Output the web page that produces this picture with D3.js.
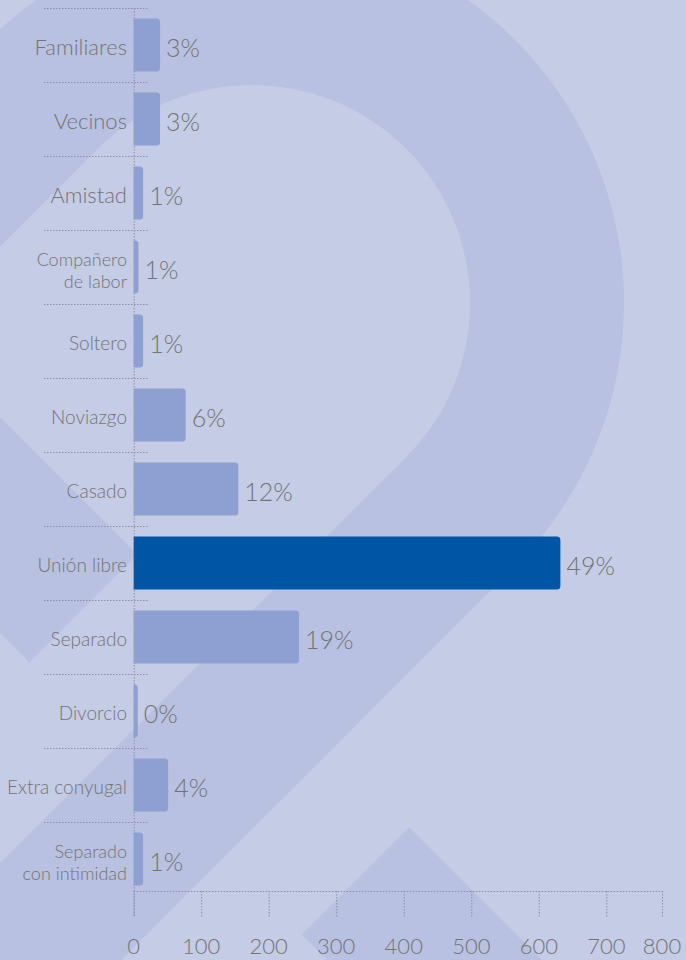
<!DOCTYPE html>
<html>
<head>
<meta charset="utf-8">
<script src="https://cdn.jsdelivr.net/npm/d3@7"></script>
<style>
  html, body { margin: 0; padding: 0; background: #c5cce6; }
  svg { display: block; }
  text { font-family: Lato, "Open Sans", sans-serif; font-weight: 300; fill: #737373; }
</style>
</head>
<body>
<svg id="chart" width="686" height="960"></svg>
<script>
// Tipo de relación con el agresor (número de casos)
const categories = [
  "Familiares", "Vecinos", "Amistad", "Compañero de labor", "Soltero",
  "Noviazgo", "Casado", "Unión libre", "Separado", "Divorcio",
  "Extra conyugal", "Separado con intimidad"
];
const counts = [39, 39, 14, 7, 14, 77, 155, 632, 245, 6, 51, 14];
const highlighted = "Unión libre";
const xTickValues = [0, 100, 200, 300, 400, 500, 600, 700, 800];
const wrappedLabels = {
  "Compañero de labor": ["Compañero", "de labor"],
  "Separado con intimidad": ["Separado", "con intimidad"]
};
const largeLabels = ["Familiares", "Vecinos", "Amistad"];

const W = 686, H = 960;
const svg = d3.select("#chart");

// ---- decorative background: a large "2" ring with diagonal arms and two diamonds
const bg = svg.append("g");
bg.append("rect").attr("width", W).attr("height", H).attr("fill", "#c5cce6");
const darkShape = "#b8c1e1";
{
  const cx = 252, cy = 303, R = 372, r = 218, k = Math.SQRT1_2, L = 900;
  const P1 = [cx - R * k, cy - R * k], P2 = [cx + R * k, cy + R * k];
  const Q1 = [cx - r * k, cy - r * k], Q2 = [cx + r * k, cy + r * k];
  const p = d3.path();
  p.moveTo(P1[0], P1[1]);
  p.arc(cx, cy, R, 5 * Math.PI / 4, 9 * Math.PI / 4, false);
  p.lineTo(P2[0] - L, P2[1] + L);
  p.lineTo(Q2[0] - L, Q2[1] + L);
  p.lineTo(Q2[0], Q2[1]);
  p.arc(cx, cy, r, 9 * Math.PI / 4, 5 * Math.PI / 4, true);
  p.lineTo(Q1[0] - L, Q1[1] + L);
  p.lineTo(P1[0] - L, P1[1] + L);
  p.closePath();
  bg.append("path").attr("d", p.toString()).attr("fill", darkShape);

  const diamonds = [
    [[137.5, 554.5], [29.5, 662.5], [-415.5, 217.5], [-307.5, 109.5]],
    [[409, 827], [301.5, 934.5], [483.5, 1116.5], [591, 1009]]
  ];
  bg.selectAll("polygon").data(diamonds).join("polygon")
    .attr("points", d => d.map(q => q.join(",")).join(" "))
    .attr("fill", darkShape);
}

// ---- scales
const x0 = 133.7;
const xScale = d3.scaleLinear()
  .domain([0, 700, 800])
  .range([x0, 606.3, 662]);

const yScale = d3.scaleBand()
  .domain(categories)
  .range([8, 896])
  .paddingInner(0.284)
  .paddingOuter(0.142);

const axisY = 891;
const tickBottom = 917;
const total = d3.sum(counts);
const data = categories.map((c, i) => ({ cat: c, value: counts[i] }));

const dotted = "#8d8cab";
const g = svg.append("g");

// row separators on the left
const gap = yScale.step() - yScale.bandwidth();
g.selectAll("line.sep").data(categories).join("line")
  .attr("class", "sep")
  .attr("x1", 44).attr("x2", 149)
  .attr("y1", d => yScale(d) - gap / 2 + 0.5)
  .attr("y2", d => yScale(d) - gap / 2 + 0.5)
  .attr("stroke", dotted).attr("stroke-width", 1)
  .attr("stroke-dasharray", "1.5,1.5");

// vertical baseline
g.append("line")
  .attr("x1", x0 + 0.5).attr("x2", x0 + 0.5)
  .attr("y1", yScale(categories[0]) - gap / 2).attr("y2", tickBottom)
  .attr("stroke", dotted).attr("stroke-width", 1)
  .attr("stroke-dasharray", "1.5,1.5");

// bars, rounded on the right end only
function barPath(xa, xb, y, h, rad) {
  const rr = Math.max(0, Math.min(rad, xb - xa, h / 2));
  return `M${xa},${y}H${xb - rr}A${rr},${rr} 0 0 1 ${xb},${y + rr}` +
         `V${y + h - rr}A${rr},${rr} 0 0 1 ${xb - rr},${y + h}H${xa}Z`;
}
g.selectAll("path.bar").data(data).join("path")
  .attr("class", "bar")
  .attr("d", d => barPath(xScale(0), xScale(d.value), yScale(d.cat), yScale.bandwidth(), 3.5))
  .attr("fill", d => d.cat === highlighted ? "#0055a5" : "#8e9fd1");

// percentage labels
g.selectAll("text.pct").data(data).join("text")
  .attr("class", "pct")
  .attr("x", d => xScale(d.value) + 6)
  .attr("y", d => yScale(d.cat) + yScale.bandwidth() / 2 + 2)
  .attr("dominant-baseline", "central")
  .attr("font-size", 25)
  .text(d => Math.round(d.value / total * 100) + "%");

// category labels
const labels = g.selectAll("text.cat").data(data).join("text")
  .attr("class", "cat")
  .attr("text-anchor", "end")
  .attr("font-size", d => largeLabels.includes(d.cat) ? 22 : (wrappedLabels[d.cat] ? 18 : 19))
  .attr("dominant-baseline", "central");
labels.each(function (d) {
  const t = d3.select(this);
  const cyv = yScale(d.cat) + yScale.bandwidth() / 2;
  const lines = wrappedLabels[d.cat] || [d.cat];
  const lh = 22;
  const offset = lines.length > 1 ? 3 : 1;
  lines.forEach((ln, i) => {
    t.append("tspan")
      .attr("x", 127)
      .attr("y", cyv + offset + (i - (lines.length - 1) / 2) * lh)
      .text(ln);
  });
});

// x axis
g.append("line")
  .attr("x1", xScale(0)).attr("x2", xScale(800))
  .attr("y1", axisY + 0.5).attr("y2", axisY + 0.5)
  .attr("stroke", dotted).attr("stroke-width", 1)
  .attr("stroke-dasharray", "1.5,1.5");
g.selectAll("line.tick").data(xTickValues).join("line")
  .attr("class", "tick")
  .attr("x1", d => xScale(d) + 0.5).attr("x2", d => xScale(d) + 0.5)
  .attr("y1", axisY).attr("y2", tickBottom)
  .attr("stroke", dotted).attr("stroke-width", 1)
  .attr("stroke-dasharray", "1.5,1.5");
g.selectAll("text.tickLabel").data(xTickValues).join("text")
  .attr("class", "tickLabel")
  .attr("x", d => xScale(d))
  .attr("y", 954)
  .attr("text-anchor", "middle")
  .attr("font-size", 22)
  .text(d => d);
</script>
</body>
</html>
